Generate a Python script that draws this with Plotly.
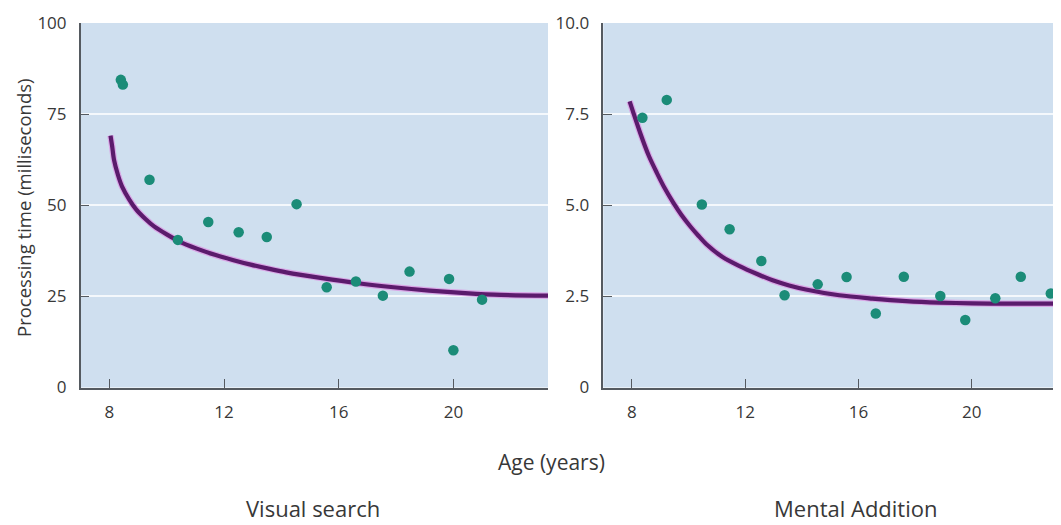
import plotly.graph_objects as go

# ---- data ----
vs_age = [8.40, 8.47, 9.40, 10.39, 11.45, 12.51, 13.49, 14.53, 15.58, 16.60, 17.54, 18.47, 19.85, 20.00, 21.00]
vs_time = [84.4, 83.1, 57.0, 40.5, 45.4, 42.6, 41.3, 50.3, 27.5, 29.1, 25.2, 31.8, 29.8, 10.2, 24.1]
vs_fit_age = [8.04, 8.10, 8.16, 8.30, 8.44, 8.70, 8.94, 9.25, 9.56, 10.00, 10.43, 11.05, 11.68, 12.30, 12.93, 13.55,
              14.17, 15.42, 16.67, 17.91, 19.16, 20.41, 21.66, 23.30]
vs_fit_time = [69.1, 66.0, 62.5, 58.3, 55.2, 51.5, 48.8, 46.3, 44.2, 42.0, 40.1, 38.1, 36.4, 35.0, 33.7, 32.6,
               31.6, 30.0, 28.6, 27.5, 26.6, 25.9, 25.4, 25.2]

ma_age = [8.37, 9.23, 10.47, 11.45, 12.57, 13.39, 14.56, 15.58, 16.61, 17.60, 18.89, 19.77, 20.83, 21.73, 22.79]
ma_time = [7.40, 7.89, 5.02, 4.34, 3.47, 2.53, 2.83, 3.03, 2.03, 3.04, 2.51, 1.85, 2.45, 3.04, 2.58]
ma_fit_age = [7.92, 8.29, 8.60, 8.88, 9.17, 9.46, 9.75, 10.05, 10.34, 10.63, 11.20, 11.80, 12.40, 12.97, 13.55,
              14.14, 15.32, 16.49, 17.68, 18.85, 20.02, 21.19, 23.15]
ma_fit_time = [7.85, 6.99, 6.35, 5.89, 5.45, 5.07, 4.73, 4.43, 4.17, 3.93, 3.58, 3.33, 3.12, 2.94, 2.80,
               2.69, 2.53, 2.44, 2.37, 2.33, 2.31, 2.30, 2.30]

x_ticks = [8, 12, 16, 20]
vs_yticks = [0, 25, 50, 75, 100]
vs_yticklabels = ["0", "25", "50", "75", "100"]
ma_yticks = [0, 2.5, 5.0, 7.5, 10.0]
ma_yticklabels = ["0", "2.5", "5.0", "7.5", "10.0"]

panel_titles = ["Visual search", "Mental Addition"]
x_title = "Age (years)"
y_title = "Processing time (milliseconds)"

# ---- styling ----
OFF = 8                      # page body margin of the html page
W, H = 1061 - OFF, 525 - OFF
BG = "#cfdfef"
AX = "#555a60"
TXT = "#383838"
DOT = "#1b8c78"
CURVE = "#5b1b6c"
HALO = "#d9a6e6"
FONT = "Open Sans"

def px(x):
    return (x - OFF) / W

def py(y):
    return 1 - (y - OFF) / H

fig = go.Figure()

def add_panel(xa, ya, ffx, ffy, mx, my):
    fig.add_trace(go.Scatter(x=ffx, y=ffy, xaxis=xa, yaxis=ya, mode="lines",
                             line=dict(color=HALO, width=6.5, shape="spline", smoothing=0.8),
                             hoverinfo="skip", showlegend=False))
    fig.add_trace(go.Scatter(x=ffx, y=ffy, xaxis=xa, yaxis=ya, mode="lines",
                             line=dict(color=CURVE, width=4.2, shape="spline", smoothing=0.8),
                             showlegend=False))
    fig.add_trace(go.Scatter(x=mx, y=my, xaxis=xa, yaxis=ya, mode="markers",
                             marker=dict(color=DOT, size=10.5, line=dict(width=0)),
                             showlegend=False))

add_panel("x", "y", vs_fit_age, vs_fit_time, vs_age, vs_time)
add_panel("x2", "y2", ma_fit_age, ma_fit_time, ma_age, ma_time)

ydom = [py(387.5), py(23)]

common_x = dict(showline=True, linecolor=AX, linewidth=1.5, ticks="inside", ticklen=9,
                tickcolor=AX, tickwidth=1.3, tickvals=x_ticks, showgrid=False, zeroline=False,
                tickfont=dict(family=FONT, size=17, color=TXT), ticklabelstandoff=8,
                automargin=False)
common_y = dict(showline=True, linecolor=AX, linewidth=1.5, ticks="inside", ticklen=9,
                tickcolor=AX, tickwidth=1.3, showgrid=True, gridcolor="#f4f8fc", gridwidth=2,
                zeroline=False, tickfont=dict(family=FONT, size=17, color=TXT), ticklabelstandoff=9,
                automargin=False)

fig.update_layout(
    width=W, height=H,
    autosize=False,
    margin=dict(l=0, r=0, t=0, b=0, pad=0),
    paper_bgcolor="white",
    plot_bgcolor=BG,
    xaxis=dict(domain=[px(80.7), px(548)], range=[7.0, 23.3], anchor="y", **common_x),
    yaxis=dict(domain=ydom, range=[0, 100], anchor="x", tickvals=vs_yticks, ticktext=vs_yticklabels, **common_y),
    xaxis2=dict(domain=[px(603.3), 1.0], range=[6.99, 23.15], anchor="y2", **common_x),
    yaxis2=dict(domain=ydom, range=[0, 10], anchor="x2", tickvals=ma_yticks, ticktext=ma_yticklabels, **common_y),
    annotations=[
        dict(text=y_title, x=px(23), y=py(208), xref="paper", yref="paper", textangle=-90,
             showarrow=False, xanchor="center", yanchor="middle",
             font=dict(family=FONT, size=18.5, color=TXT)),
        dict(text=x_title, x=px(551), y=py(462), xref="paper", yref="paper",
             showarrow=False, xanchor="center", yanchor="middle",
             font=dict(family=FONT, size=21, color=TXT)),
        dict(text=panel_titles[0], x=px(313), y=py(508), xref="paper", yref="paper",
             showarrow=False, xanchor="center", yanchor="middle",
             font=dict(family=FONT, size=22, color=TXT)),
        dict(text=panel_titles[1], x=px(855), y=py(508), xref="paper", yref="paper",
             showarrow=False, xanchor="center", yanchor="middle",
             font=dict(family=FONT, size=22, color=TXT)),
    ],
)

fig.write_html("out.html")
